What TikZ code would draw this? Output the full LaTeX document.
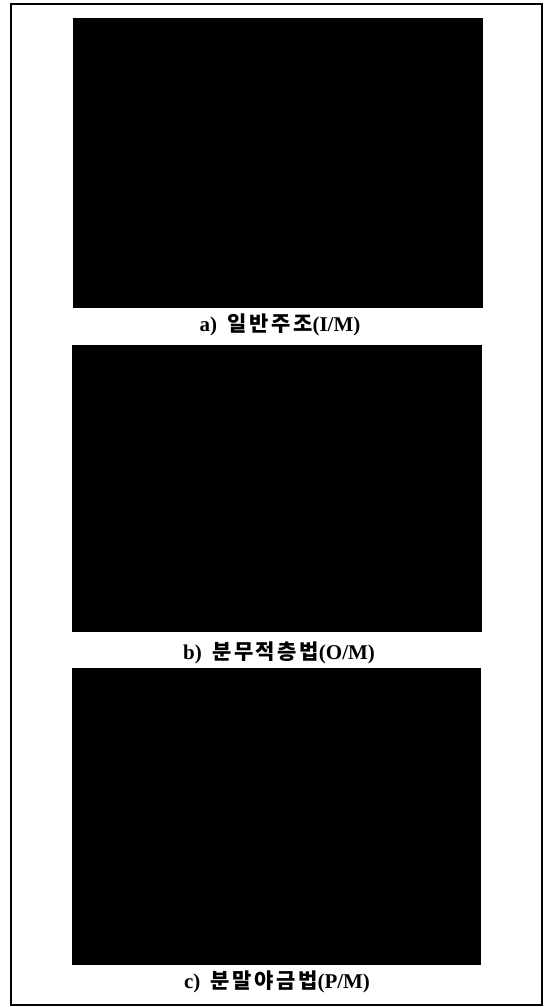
\documentclass[tikz,border=0pt]{standalone}
\usepackage{fontspec}
\setmainfont{Liberation Serif}
\newfontfamily\krfont[LetterSpace=12]{Noto Sans CJK KR}
\tikzset{
  photo/.style={fill=black, draw=none},
  frame/.style={draw=black, line width=1.8pt},
  caption/.style={font=\fontsize{21}{23}\selectfont\bfseries, inner sep=0pt, anchor=center}
}
\begin{document}
\begin{tikzpicture}[x=1pt,y=-1pt]
\useasboundingbox (0,0) rectangle (551,1007);
\fill[white] (0,0) rectangle (551,1007);
\draw[frame] (11,4) rectangle (542,1005);
\node[photo, minimum width=410pt, minimum height=290pt, inner sep=0pt] (pa) at (278,163) {};
\node[photo, minimum width=410pt, minimum height=287pt, inner sep=0pt] (pb) at (277,488.5) {};
\node[photo, minimum width=409pt, minimum height=297pt, inner sep=0pt] (pc) at (276.5,816.5) {};
\node[caption] (ca) at (280,325) {a)\hspace{0.5em}{\krfont 일반주조}(I/M)};
\node[caption] (cb) at (279,653) {b)\hspace{0.5em}{\krfont 분무적층법}(O/M)};
\node[caption] (cc) at (277,982) {c)\hspace{0.5em}{\krfont 분말야금법}(P/M)};
\end{tikzpicture}
\end{document}
